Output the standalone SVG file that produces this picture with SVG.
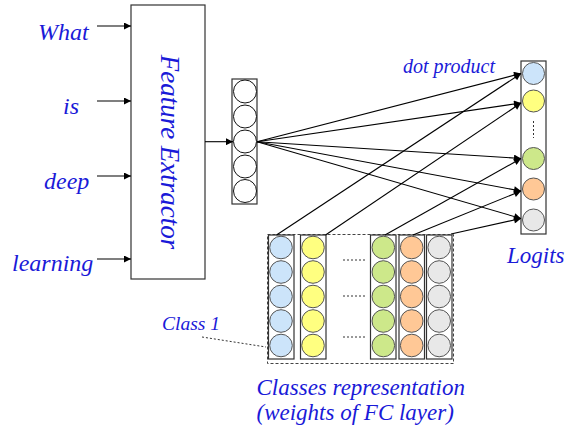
<svg xmlns="http://www.w3.org/2000/svg" width="566" height="433" viewBox="0 0 566 433">
<defs>
<style>
.t{font-family:"Liberation Serif","Times New Roman",serif;font-style:italic;fill:#1a1ad8}
.box{fill:none;stroke:#333;stroke-width:1.2}
.c{stroke:#555;stroke-width:1}
.w{fill:#fff;stroke:#111;stroke-width:1}
.b{fill:#cce4fa}.y{fill:#ffff80}.g{fill:#cde88a}.o{fill:#ffc896}.s{fill:#e8e8e8}
.ln{stroke:#000;stroke-width:1.1;fill:none}
.dash{stroke:#444;stroke-width:1;stroke-dasharray:3 2;fill:none}
</style>
<marker id="ah" viewBox="0 0 10 10" refX="10" refY="5" markerWidth="9" markerHeight="7" markerUnits="userSpaceOnUse" orient="auto">
<path d="M0,0 L10,5 L0,10 z" fill="#000"/>
</marker>
</defs>

<g id="words">
<text class="t" x="38" y="40" font-size="24">What</text>
<text class="t" x="63" y="114" font-size="24">is</text>
<text class="t" x="44" y="189" font-size="24">deep</text>
<text class="t" x="12" y="271" font-size="24">learning</text>
</g>

<g id="feature-extractor">
<rect class="box" x="131" y="5" width="74" height="274"/>
<text class="t" font-size="27" text-anchor="middle" transform="translate(161,152) rotate(90)">Feature Extractor</text>
</g>

<g id="feature-vector">
<rect class="box" x="232" y="79" width="25" height="125"/>
<circle class="w" cx="245" cy="91.5" r="11.5"/>
<circle class="w" cx="245" cy="116.5" r="11.5"/>
<circle class="w" cx="245" cy="141.5" r="11.5"/>
<circle class="w" cx="245" cy="166.5" r="11.5"/>
<circle class="w" cx="245" cy="191" r="11.5"/>
</g>

<g id="logits">
<rect class="box" x="521" y="61" width="25" height="173"/>
<circle class="c b" cx="533.5" cy="73.5" r="11"/>
<circle class="c y" cx="533.5" cy="101" r="11"/>
<line x1="533.5" y1="121" x2="533.5" y2="138" stroke="#333" stroke-width="1" stroke-dasharray="2 2"/>
<circle class="c g" cx="533.5" cy="158.5" r="11"/>
<circle class="c o" cx="533.5" cy="189" r="11"/>
<circle class="c s" cx="533.5" cy="220" r="11"/>
<text class="t" x="507" y="263" font-size="23">Logits</text>
</g>

<g id="dot-product-label">
<text class="t" x="403" y="73" font-size="20">dot product</text>
</g>

<g id="classes">
<rect class="dash" x="267.5" y="234.5" width="186" height="129"/>
<rect class="box" x="268.5" y="235" width="25.5" height="124"/>
<rect class="box" x="300.5" y="235" width="25.5" height="124"/>
<rect class="box" x="370.5" y="235" width="25.5" height="124"/>
<rect class="box" x="399" y="235" width="25.5" height="124"/>
<rect class="box" x="426.5" y="235" width="25.5" height="124"/>
<g class="c b">
<circle cx="281" cy="247.5" r="11.3"/><circle cx="281" cy="272" r="11.3"/><circle cx="281" cy="296.5" r="11.3"/><circle cx="281" cy="321" r="11.3"/><circle cx="281" cy="345.5" r="11.3"/>
</g>
<g class="c y">
<circle cx="313" cy="247.5" r="11.3"/><circle cx="313" cy="272" r="11.3"/><circle cx="313" cy="296.5" r="11.3"/><circle cx="313" cy="321" r="11.3"/><circle cx="313" cy="345.5" r="11.3"/>
</g>
<g class="c g">
<circle cx="383.3" cy="247.5" r="11.3"/><circle cx="383.3" cy="272" r="11.3"/><circle cx="383.3" cy="296.5" r="11.3"/><circle cx="383.3" cy="321" r="11.3"/><circle cx="383.3" cy="345.5" r="11.3"/>
</g>
<g class="c o">
<circle cx="411.7" cy="247.5" r="11.3"/><circle cx="411.7" cy="272" r="11.3"/><circle cx="411.7" cy="296.5" r="11.3"/><circle cx="411.7" cy="321" r="11.3"/><circle cx="411.7" cy="345.5" r="11.3"/>
</g>
<g class="c s">
<circle cx="439.2" cy="247.5" r="11.3"/><circle cx="439.2" cy="272" r="11.3"/><circle cx="439.2" cy="296.5" r="11.3"/><circle cx="439.2" cy="321" r="11.3"/><circle cx="439.2" cy="345.5" r="11.3"/>
</g>
<g stroke="#333" stroke-width="1" stroke-dasharray="2 2">
<line x1="343" y1="260" x2="365" y2="260"/>
<line x1="343" y1="296" x2="365" y2="296"/>
<line x1="343" y1="337" x2="365" y2="337"/>
</g>
<text class="t" x="256.5" y="395" font-size="23">Classes representation</text>
<text class="t" x="256.5" y="420" font-size="23">(weights of FC layer)</text>
</g>

<g id="class1-label">
<text class="t" x="162" y="330" font-size="19.5">Class 1</text>
<line x1="202" y1="337" x2="266" y2="347" stroke="#333" stroke-width="1" stroke-dasharray="2 2"/>
</g>

<g id="connectors">
<line class="ln" x1="97" y1="26" x2="131" y2="26" marker-end="url(#ah)"/>
<line class="ln" x1="97" y1="101" x2="131" y2="101" marker-end="url(#ah)"/>
<line class="ln" x1="97" y1="176" x2="131" y2="176" marker-end="url(#ah)"/>
<line class="ln" x1="97" y1="259" x2="131" y2="259" marker-end="url(#ah)"/>
<line class="ln" x1="205" y1="141.7" x2="233" y2="141.7" marker-end="url(#ah)"/>
<line class="ln" x1="257" y1="141.7" x2="521" y2="73.5" marker-end="url(#ah)"/>
<line class="ln" x1="257" y1="141.7" x2="521" y2="103" marker-end="url(#ah)"/>
<line class="ln" x1="257" y1="141.7" x2="521" y2="158.5" marker-end="url(#ah)"/>
<line class="ln" x1="257" y1="141.7" x2="521" y2="191" marker-end="url(#ah)"/>
<line class="ln" x1="257" y1="141.7" x2="521" y2="218.5" marker-end="url(#ah)"/>
<line class="ln" x1="276.5" y1="235" x2="521" y2="73.5" marker-end="url(#ah)"/>
<line class="ln" x1="325.5" y1="235" x2="521" y2="103" marker-end="url(#ah)"/>
<line class="ln" x1="385" y1="235" x2="521" y2="158.5" marker-end="url(#ah)"/>
<line class="ln" x1="413" y1="235" x2="521" y2="191" marker-end="url(#ah)"/>
<line class="ln" x1="451" y1="234" x2="521" y2="218.5" marker-end="url(#ah)"/>
</g>
</svg>
